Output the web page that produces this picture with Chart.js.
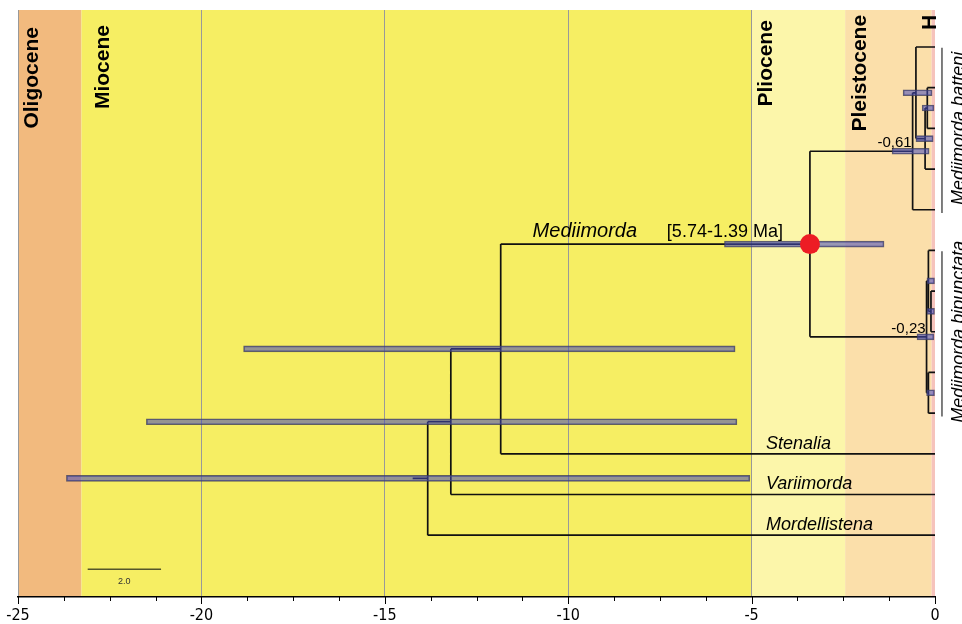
<!DOCTYPE html>
<html>
<head>
<meta charset="utf-8">
<title>Mediimorda dated tree</title>
<script src="https://cdn.jsdelivr.net/npm/chart.js@4.4.0/dist/chart.umd.min.js"></script>
<style>
html, body { margin: 0; padding: 0; background: #fff; }
#wrap { width: 962px; height: 624px; }
</style>
</head>
<body>
<div id="wrap"><canvas id="tree" width="962" height="624"></canvas></div>
<script>
// tips from top to bottom, the row of a tip is its place in the list
var tipNames = ['', '', '', '', '', '', '', '', '', '', 'Stenalia', 'Variimorda', 'Mordellistena'];

// internal nodes (children before parents), ages in Ma, negative = past
var nodeIds  = ['Q1', 'Q2', 'Q3', 'Q4', 'R1', 'R2', 'R3', 'R4', 'C', 'B', 'A', 'root'];
var nodeAges = [-0.21, -0.27, -0.52, -0.61, -0.11, -0.18, -0.18, -0.23, -3.41, -11.84, -13.2, -13.83];
var nodeKids = [['t1', 't2'], ['Q1', 't3'], ['t0', 'Q2'], ['Q3', 't4'],
                ['t6', 't7'], ['t5', 'R1'], ['t8', 't9'], ['R2', 'R3'],
                ['Q4', 'R4'], ['C', 't10'], ['B', 't11'], ['A', 't12']];
// 95% HPD of node ages
var hpdLow   = [-0.35, -0.52, -0.87, -1.17, -0.22, -0.22, -0.23, -0.49, -5.74, -18.85, -21.5, -23.68];
var hpdHigh  = [-0.03, -0.05, -0.08, -0.16, 0, 0, 0, -0.03, -1.39, -5.45, -5.4, -5.05];
var rootStem = -14.24;

// node age labels
var nodeLabelIds = ['Q4', 'R4'];
var nodeLabels   = ['-0,61', '-0,23'];

// clades at the right edge: name, first and last tip row
var cladeNames = ['Mediimorda batteni', 'Mediimorda bipunctata'];
var cladeFrom  = [0, 5];
var cladeTo    = [4, 9];

// geological epochs
var epochNames = ['Oligocene', 'Miocene', 'Pliocene', 'Pleistocene', 'H'];
var epochFrom  = [-25, -23.27, -5, -2.45, -0.09];
var epochTo    = [-23.27, -5, -2.45, -0.09, 0];

// x axis
var majorTicks = [-25, -20, -15, -10, -5, 0];
var scaleBarLength = 2.0;

// ---- styles / layout ----
var epochColors = ['#F2BA7E', '#F6EE63', '#FCF6AA', '#FBDFAA', '#F6C3BC'];
var epochLabelX = [-24.6, -22.69, -4.61, -2.04, -0.14];
var epochLabelTop = [-0.49, -0.54, -0.66, -0.79, -0.79];
var FONT = "'Liberation Sans', Arial, sans-serif";

// node positions: y = middle of the children
var pos = {};
tipNames.forEach(function (n, i) { pos['t' + i] = { x: 0, y: i }; });
nodeIds.forEach(function (id, i) {
    var ys = nodeKids[i].map(function (k) { return pos[k].y; });
    var lo = Math.min.apply(null, ys), hi = Math.max.apply(null, ys);
    pos[id] = { x: nodeAges[i], y: (lo + hi) / 2, lo: lo, hi: hi };
});

var GAP = { x: NaN, y: NaN };
var branchPts = [];
nodeIds.forEach(function (id, i) {
    var p = pos[id];
    branchPts.push({ x: p.x, y: p.lo }, { x: p.x, y: p.hi }, GAP);
    nodeKids[i].forEach(function (k) {
        branchPts.push({ x: p.x, y: pos[k].y }, { x: pos[k].x, y: pos[k].y }, GAP);
    });
});
branchPts.push({ x: rootStem, y: pos.root.y }, { x: pos.root.x, y: pos.root.y });

var hpdBars = nodeIds.map(function (id, i) {
    return { x: [hpdLow[i], hpdHigh[i]], y: pos[id].y };
});

var cladePts = [];
cladeNames.forEach(function (n, i) {
    cladePts.push({ x: 0.19, y: cladeFrom[i] + 0.02 }, { x: 0.19, y: cladeTo[i] + 0.08 }, GAP);
});

var scaleBarX = -23.1;
var scaleBarY = 12.84;

var paint = {
    id: 'paint',
    beforeDraw: function (chart) {
        var ctx = chart.ctx, xs = chart.scales.x, a = chart.chartArea;
        ctx.save();
        for (var i = 0; i < epochNames.length; i++) {
            var x0 = xs.getPixelForValue(epochFrom[i]), x1 = xs.getPixelForValue(epochTo[i]);
            ctx.fillStyle = epochColors[i];
            ctx.fillRect(x0, a.top, x1 - x0, a.bottom - a.top);
        }
        ctx.restore();
    },
    afterDatasetsDraw: function (chart) {
        var ctx = chart.ctx, xs = chart.scales.x, ys = chart.scales.y;
        ctx.save();
        ctx.fillStyle = '#000';
        // epoch names
        ctx.font = 'bold 21px ' + FONT;
        for (var i = 0; i < epochNames.length; i++) {
            ctx.save();
            ctx.translate(xs.getPixelForValue(epochLabelX[i]), ys.getPixelForValue(epochLabelTop[i]));
            ctx.rotate(-Math.PI / 2);
            ctx.textAlign = 'right';
            ctx.textBaseline = 'middle';
            ctx.fillText(epochNames[i], 0, 0);
            ctx.restore();
        }
        // tip names
        ctx.font = 'italic 18px ' + FONT;
        ctx.textAlign = 'left';
        ctx.textBaseline = 'alphabetic';
        tipNames.forEach(function (n, i) {
            if (!n) return;
            ctx.fillText(n, xs.getPixelForValue(-4.61), ys.getPixelForValue(i) - 5);
        });
        // crown of Mediimorda
        var c = pos.C, cy = ys.getPixelForValue(c.y) - 7;
        ctx.font = 'italic 20px ' + FONT;
        ctx.fillText('Mediimorda', xs.getPixelForValue(-10.97), cy);
        ctx.font = '18px ' + FONT;
        ctx.fillText('[' + Math.abs(hpdLow[8]).toFixed(2) + '-' + Math.abs(hpdHigh[8]).toFixed(2) + ' Ma]', xs.getPixelForValue(-7.31), cy);
        // node ages
        ctx.font = '15px ' + FONT;
        ctx.textAlign = 'right';
        nodeLabelIds.forEach(function (id, i) {
            ctx.fillText(nodeLabels[i], xs.getPixelForValue(pos[id].x) - 1, ys.getPixelForValue(pos[id].y) - 4);
        });
        // clade names, cut by the right edge
        ctx.font = 'italic 18px ' + FONT;
        cladeNames.forEach(function (n, i) {
            ctx.save();
            ctx.translate(964, ys.getPixelForValue((cladeFrom[i] + cladeTo[i]) / 2));
            ctx.rotate(-Math.PI / 2);
            ctx.textAlign = 'center';
            ctx.fillText(n, 0, 0);
            ctx.restore();
        });
        // scale bar text
        ctx.font = '9px ' + FONT;
        ctx.textAlign = 'center';
        ctx.fillStyle = '#333';
        ctx.fillText(scaleBarLength.toFixed(1), xs.getPixelForValue(scaleBarX + scaleBarLength / 2), ys.getPixelForValue(scaleBarY) + 15);
        ctx.restore();
    },
    afterDraw: function (chart) {
        var ctx = chart.ctx, xs = chart.scales.x, b = chart.chartArea.bottom;
        ctx.save();
        ctx.strokeStyle = '#000';
        ctx.lineWidth = 1;
        xs.ticks.forEach(function (t) {
            var px = Math.round(xs.getPixelForValue(t.value)) + 0.5;
            var major = majorTicks.indexOf(t.value) >= 0;
            ctx.beginPath();
            ctx.moveTo(px, b);
            ctx.lineTo(px, b + (major ? 7 : 4));
            ctx.stroke();
        });
        ctx.restore();
    }
};

new Chart('tree', {
    type: 'scatter',
    data: {
        datasets: [{
            data: branchPts,
            showLine: true,
            spanGaps: false,
            borderColor: '#111',
            borderWidth: 1.7,
            pointRadius: 0,
            order: 3
        }, {
            type: 'bar',
            indexAxis: 'y',
            data: hpdBars,
            barThickness: 6,
            backgroundColor: 'rgba(70,75,185,0.55)',
            borderColor: 'rgba(60,60,90,0.8)',
            borderWidth: 1,
            borderSkipped: false,
            order: 2
        }, {
            data: [{ x: pos.C.x, y: pos.C.y }],
            pointRadius: 10,
            pointBackgroundColor: '#ED1C24',
            pointBorderWidth: 0,
            order: 1
        }, {
            data: cladePts,
            showLine: true,
            spanGaps: false,
            borderColor: '#555',
            borderWidth: 1.5,
            pointRadius: 0,
            clip: false,
            order: 4
        }, {
            data: [{ x: scaleBarX, y: scaleBarY }, { x: scaleBarX + scaleBarLength, y: scaleBarY }],
            showLine: true,
            borderColor: '#55552a',
            borderWidth: 1.5,
            pointRadius: 0,
            order: 4
        }]
    },
    options: {
        responsive: false,
        animation: false,
        layout: { padding: { left: 18, right: 27, top: 10, bottom: 0 } },
        plugins: { legend: { display: false }, tooltip: { enabled: false } },
        scales: {
            x: {
                type: 'linear', min: -25, max: 0, offset: false,
                afterFit: function (scale) {
                    scale.height = 27;
                    scale.paddingLeft = 0;
                    scale.paddingRight = 0;
                },
                ticks: {
                    stepSize: 1.25, autoSkip: false, maxRotation: 0, padding: 9, color: '#000',
                    font: { family: "'Liberation Sans Narrow', 'DejaVu Sans Condensed', sans-serif", size: 16 },
                    callback: function (v) { return majorTicks.indexOf(v) >= 0 ? String(v) : ''; }
                },
                grid: {
                    drawTicks: false,
                    lineWidth: 1,
                    color: function (c) {
                        var v = c.tick ? c.tick.value : 0;
                        return (v % 5 === 0 && v !== 0) ? '#999999' : 'rgba(0,0,0,0)';
                    }
                },
                border: { display: true, color: '#000', width: 1.5 }
            },
            y: { type: 'linear', min: -0.91, max: 13.52, reverse: true, display: false, offset: false }
        }
    },
    plugins: [paint]
});
</script>
</body>
</html>
